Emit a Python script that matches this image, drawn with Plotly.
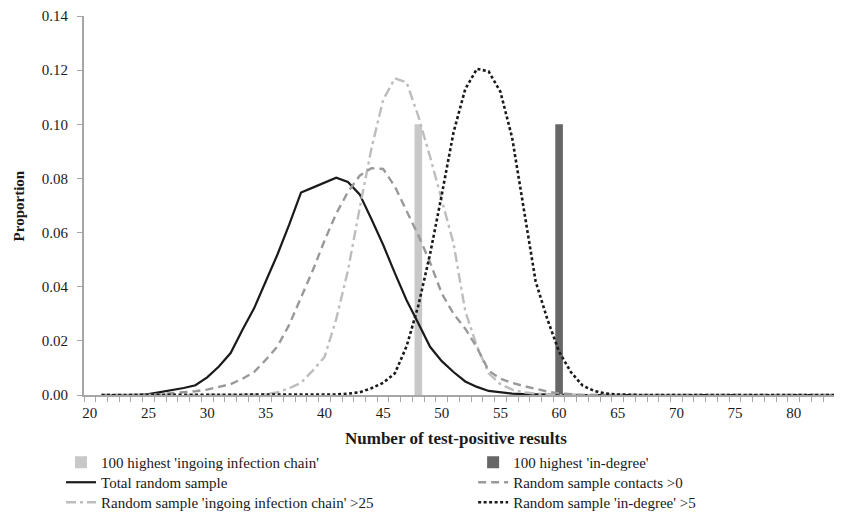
import plotly.graph_objects as go

x_values = list(range(21, 85))

total_random = [0, 0, 0, 0, 0.0003, 0.001, 0.0018, 0.0026, 0.0036, 0.0065,
                0.0105, 0.0155, 0.024, 0.032, 0.042, 0.052, 0.063, 0.0748, 0.0766, 0.0785,
                0.0803, 0.0787, 0.0741, 0.065, 0.0555, 0.045, 0.035, 0.0265, 0.0178, 0.0125,
                0.0085, 0.005, 0.003, 0.0015, 0.001, 0.0005, 0.0003, 0.0002, 0.0001] + [0] * 25

contacts_gt0 = [0, 0, 0, 0, 0.0001, 0.0003, 0.0006, 0.001, 0.0014, 0.002,
                0.003, 0.004, 0.006, 0.0085, 0.013, 0.018, 0.026, 0.036, 0.046, 0.057,
                0.067, 0.075, 0.081, 0.0838, 0.0835, 0.077, 0.068, 0.059, 0.049, 0.0375,
                0.030, 0.0245, 0.0175, 0.009, 0.006, 0.0045, 0.0033, 0.0022, 0.0013, 0.0006,
                0.0002] + [0] * 23

chain_gt25 = [0] * 13 + [0.0001, 0.0003, 0.001, 0.0025, 0.0045, 0.009, 0.014,
                         0.028, 0.046, 0.069, 0.091, 0.109, 0.117, 0.1155, 0.103, 0.088, 0.072,
                         0.056, 0.031, 0.018, 0.008, 0.004, 0.002, 0.001, 0.0005, 0.0002] + [0] * 25

indegree_gt5 = [0] * 20 + [0.0002, 0.0005, 0.001, 0.0025, 0.0045, 0.008, 0.018, 0.033, 0.052, 0.074,
                           0.097, 0.113, 0.1205, 0.1195, 0.112, 0.095, 0.068, 0.042, 0.028, 0.016,
                           0.0085, 0.0035, 0.0015, 0.0005, 0.0002] + [0] * 19

bar_chain_x = [48]
bar_chain_y = [0.10]
bar_indeg_x = [60]
bar_indeg_y = [0.10]

x_tick_vals = [20, 25, 30, 35, 40, 45, 50, 55, 60, 65, 70, 75, 80]
y_tick_vals = [0.00, 0.02, 0.04, 0.06, 0.08, 0.10, 0.12, 0.14]

x_title = "Number of test-positive results"
y_title = "Proportion"

FONT = "Liberation Serif"
TXT = "#1a1a1a"

fig = go.Figure()
# left legend column
fig.add_trace(go.Bar(x=bar_chain_x, y=bar_chain_y, width=0.65, marker_color="#c8c8c8",
                     marker_line_width=0, name="100 highest 'ingoing infection chain'",
                     legend="legend"))
fig.add_trace(go.Scatter(x=x_values, y=total_random, mode="lines", name="Total random sample",
                         line=dict(color="#1a1a1a", width=2.2), legend="legend2"))
fig.add_trace(go.Scatter(x=x_values, y=chain_gt25, mode="lines",
                         name="Random sample 'ingoing infection chain' >25",
                         line=dict(color="#bdbdbd", width=2.4, dash="10px,4px,3px,4px"),
                         legend="legend3"))
# right legend column
fig.add_trace(go.Bar(x=bar_indeg_x, y=bar_indeg_y, width=0.65, marker_color="#666666",
                     marker_line_width=0, name="100 highest 'in-degree'", legend="legend4"))
fig.add_trace(go.Scatter(x=x_values, y=contacts_gt0, mode="lines", name="Random sample contacts >0",
                         line=dict(color="#999999", width=2.4, dash="8px,5px"), legend="legend5"))
fig.add_trace(go.Scatter(x=x_values, y=indegree_gt5, mode="lines", name="Random sample 'in-degree' >5",
                         line=dict(color="#1a1a1a", width=2.6, dash="3px,2.5px"), legend="legend6"))

common = dict(orientation="v", xanchor="left", yanchor="top",
              itemwidth=30, font=dict(family=FONT, size=15, color=TXT),
              traceorder="normal", tracegroupgap=0, bgcolor="rgba(0,0,0,0)")
col1_x, col2_x = -0.030, 0.508
row_y = [-0.1346, -0.1873, -0.2401]

fig.update_layout(
    width=842, height=529,
    margin=dict(l=76, r=0, t=8, b=142, autoexpand=False),
    paper_bgcolor="white", plot_bgcolor="white",
    font=dict(family=FONT, size=15, color=TXT),
    barmode="overlay",
    showlegend=True,
    legend=dict(x=col1_x, y=row_y[0], **common),
    legend2=dict(x=col1_x, y=row_y[1], **common),
    legend3=dict(x=col1_x, y=row_y[2], **common),
    legend4=dict(x=col2_x, y=row_y[0], **common),
    legend5=dict(x=col2_x, y=row_y[1], **common),
    legend6=dict(x=col2_x, y=row_y[2], **common),
    xaxis=dict(range=[19.5, 84.8], tickvals=x_tick_vals, ticks="", showgrid=False,
               zeroline=False, showline=True, linecolor="#a6a6a6", linewidth=2,
               tickfont=dict(family=FONT, size=15, color=TXT), ticklabelstandoff=3,
               minor=dict(tick0=19.5, dtick=1, ticks="outside", ticklen=5, tickcolor="#a6a6a6",
                          tickwidth=1, showgrid=False)),
    yaxis=dict(range=[0, 0.14], tickvals=y_tick_vals, tickformat=".2f", ticks="outside", ticklen=5,
               tickcolor="#a6a6a6", showgrid=False, zeroline=False, showline=True,
               linecolor="#a6a6a6", linewidth=2, tickfont=dict(family=FONT, size=15, color=TXT),
               ticklabelstandoff=6),
    annotations=[
        dict(text="<b>" + x_title + "</b>", xref="paper", yref="paper", x=0.486, y=-0.1135,
             xanchor="center", yanchor="middle", showarrow=False,
             font=dict(family=FONT, size=17, color=TXT)),
        dict(text="<b>" + y_title + "</b>", xref="paper", yref="paper", x=-0.085, y=0.5,
             xanchor="center", yanchor="middle", textangle=-90, showarrow=False,
             font=dict(family=FONT, size=15, color=TXT)),
    ],
)

fig.write_html("out.html")
